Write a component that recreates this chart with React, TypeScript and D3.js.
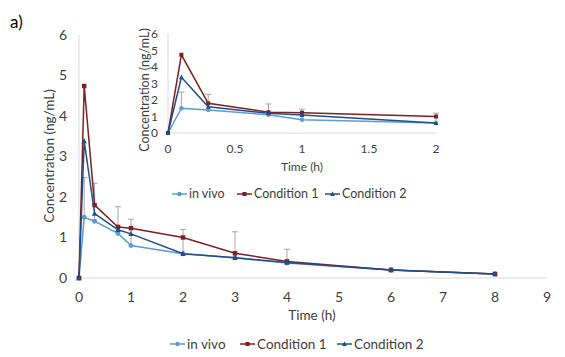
import React from "react";
import * as d3 from "d3";

const times = [0, 0.1, 0.3, 0.75, 1, 2, 3, 4, 6, 8];
const inVivo = [0, 1.5, 1.4, 1.1, 0.8, 0.6, 0.5, 0.37, 0.2, 0.1];
const condition1 = [0, 4.74, 1.8, 1.26, 1.23, 1.0, 0.61, 0.41, 0.2, 0.1];
const condition2 = [0, 3.38, 1.59, 1.19, 1.09, 0.6, 0.5, 0.38, 0.2, 0.1];
const inVivoErr = [0, 0.98, 0.94, 0.66, 0.65, 0.6, 0.64, 0.34, 0, 0];

const seriesNames = ["in vivo", "Condition 1", "Condition 2"];
const seriesColors = ["#5B9BD5", "#7F1F1F", "#1F4E8C"];
const seriesShapes = ["circle", "square", "triangle"];
const seriesValues = [inVivo, condition1, condition2];

const mainXTicks = [0, 1, 2, 3, 4, 5, 6, 7, 8, 9];
const mainYTicks = [0, 1, 2, 3, 4, 5, 6];
const insetXTicks = [0, 0.5, 1, 1.5, 2];
const insetYTicks = [0, 1, 2, 3, 4, 5, 6];

const FONT = "Lato, 'Open Sans', sans-serif";
const AXIS = "#D9D9D9";
const TEXT = "#404040";

function Marker({ shape, x, y, color, s }: any) {
  if (shape === "circle") return <circle cx={x} cy={y} r={s * 0.55} fill={color} />;
  if (shape === "square")
    return <rect x={x - s / 2} y={y - s / 2} width={s} height={s} fill={color} />;
  const h = s * 1.1;
  return (
    <path
      d={`M${x},${y - h * 0.6}L${x + s * 0.6},${y + h * 0.45}L${x - s * 0.6},${y + h * 0.45}Z`}
      fill={color}
    />
  );
}

function Legend({ x, y, gaps, fontSize }: any) {
  let cx = x;
  return (
    <g>
      {seriesNames.map((n, i) => {
        const start = cx + (gaps[i] || 0);
        cx = start;
        return (
          <g key={n}>
            <line x1={start} x2={start + 15} y1={y} y2={y} stroke={seriesColors[i]} strokeWidth={1.5} />
            <Marker shape={seriesShapes[i]} x={start + 7.5} y={y} color={seriesColors[i]} s={4} />
            <text x={start + 17} y={y} dy="0.35em" fontSize={fontSize} fill={TEXT} fontFamily={FONT}>
              {n}
            </text>
          </g>
        );
      })}
    </g>
  );
}

function Plot({ x, y, xTicks, yTicks, idx, tickFs, markerS, yGap, xGap }: any) {
  const line = d3
    .line<number>()
    .x((_, i) => x(times[idx[i]]))
    .y((v) => y(v));
  const [x0, x1] = x.range();
  const [y0, y1] = y.range();
  return (
    <g>
      <line x1={x0} x2={x0} y1={y0} y2={y1} stroke={AXIS} strokeWidth={1} />
      <line x1={x0} x2={x1} y1={y0} y2={y0} stroke={AXIS} strokeWidth={1} />
      {yTicks.map((t: number) => (
        <text key={"y" + t} x={x0 - yGap} y={y(t)} dy="0.35em" textAnchor="end" fontSize={tickFs} fill={TEXT} fontFamily={FONT}>
          {t}
        </text>
      ))}
      {xTicks.map((t: number) => (
        <text key={"x" + t} x={x(t)} y={y0 + xGap} dy="0.35em" textAnchor="middle" fontSize={tickFs} fill={TEXT} fontFamily={FONT}>
          {t}
        </text>
      ))}
      {idx.map((k: number) =>
        inVivoErr[k] > 0 ? (
          <g key={"e" + k}>
            <line x1={x(times[k])} x2={x(times[k])} y1={y(inVivo[k])} y2={y(inVivo[k] + inVivoErr[k])} stroke="#A6A6A6" strokeWidth={1} />
            <line x1={x(times[k]) - 3} x2={x(times[k]) + 3} y1={y(inVivo[k] + inVivoErr[k])} y2={y(inVivo[k] + inVivoErr[k])} stroke="#A6A6A6" strokeWidth={1} />
          </g>
        ) : null
      )}
      {seriesValues.map((vals, s) => (
        <g key={"s" + s}>
          <path d={line(idx.map((k: number) => vals[k])) || ""} fill="none" stroke={seriesColors[s]} strokeWidth={1.5} />
          {idx.map((k: number) => (
            <Marker key={k} shape={seriesShapes[s]} x={x(times[k])} y={y(vals[k])} color={seriesColors[s]} s={markerS} />
          ))}
        </g>
      ))}
    </g>
  );
}

export default function App() {
  const W = 565,
    H = 357;
  const mx = d3.scaleLinear().domain([0, 9]).range([79, 547]);
  const my = d3.scaleLinear().domain([0, 6]).range([278, 35]);
  const ix = d3.scaleLinear().domain([0, 2]).range([168, 436]);
  const iy = d3.scaleLinear().domain([0, 6]).range([133, 34]);
  const allIdx = times.map((_, i) => i);
  const insetIdx = times.map((_, i) => i).filter((i) => times[i] <= 2);
  return (
    <svg width={W} height={H} style={{ position: "absolute", left: 0, top: 0, background: "#fff" }}>
      <rect width={W} height={H} fill="#fff" />
      <text x={10} y={28} fontSize={17} fill="#000" fontFamily={FONT}>a)</text>
      <Plot x={mx} y={my} xTicks={mainXTicks} yTicks={mainYTicks} idx={allIdx} tickFs={14} markerS={4.5} yGap={12} xGap={19} />
      <text transform="translate(54,156) rotate(-90)" textAnchor="middle" fontSize={13.5} fill={TEXT} fontFamily={FONT}>
        Concentration (ng/mL)
      </text>
      <text x={312} y={320} textAnchor="middle" fontSize={13.5} fill={TEXT} fontFamily={FONT}>Time (h)</text>
      <Legend x={170} y={344} gaps={[0, 70, 97]} fontSize={13.5} />

      <rect x={128} y={26} width={320} height={180} fill="#fff" />
      <Plot x={ix} y={iy} xTicks={insetXTicks} yTicks={insetYTicks} idx={insetIdx} tickFs={12} markerS={4} yGap={10} xGap={16} />
      <text transform="translate(148.5,90) rotate(-90)" textAnchor="middle" fontSize={12.5} fill={TEXT} fontFamily={FONT}>
        Concentration (ng/mL)
      </text>
      <text x={302} y={171} textAnchor="middle" fontSize={12} fill={TEXT} fontFamily={FONT}>Time (h)</text>
      <Legend x={172} y={194} gaps={[0, 65, 88]} fontSize={12.5} />
    </svg>
  );
}
